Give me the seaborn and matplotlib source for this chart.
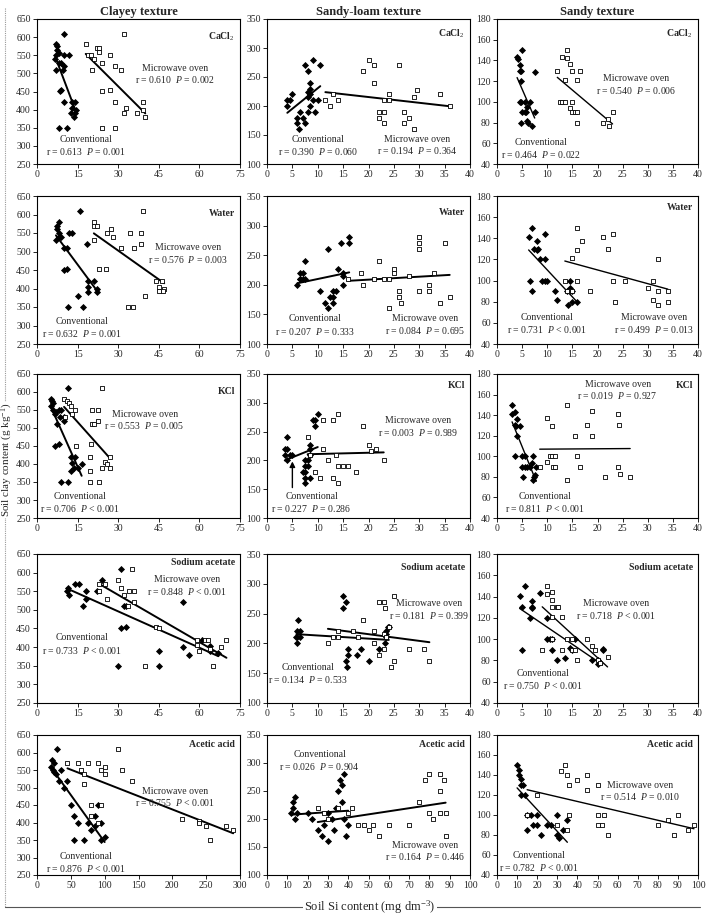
import numpy as np
import pandas as pd
import seaborn as sns
import matplotlib.pyplot as plt

# ---- data: (Si, clay) pairs ----
# row 1: CaCl2
cl_cacl2_conv = [(7, 580), (7.5, 575), (7.5, 565), (8, 555), (7, 550), (6.8, 540), (8, 530), (9, 530), (7, 510),
                 (9.5, 510), (10, 520), (10, 550), (9, 455), (8.5, 452), (10, 420), (12, 550), (13, 420), (13, 405),
                 (14, 420), (14, 390), (14.5, 400), (13.5, 380), (12.5, 390), (8, 350), (11, 350), (10, 610)]
cl_cacl2_mw = [(18, 580), (19, 550), (20, 550), (22, 570), (23, 570), (23, 560), (21, 540), (20.5, 510), (24, 530),
               (27, 550), (29, 520), (31, 510), (32, 610), (24, 452), (27, 455), (29, 422), (33, 405), (32, 392),
               (37, 392), (39, 422), (39, 400), (40, 380), (24, 350), (29, 350)]
sl_cacl2_conv = [(4, 210), (4.5, 210), (4, 200), (5, 220), (6.5, 190), (6, 180), (7, 180), (6, 170), (6.3, 160),
                 (7.5, 170), (8, 190), (7.5, 270), (8, 260), (8.5, 240), (9, 280), (8, 225), (8, 215), (8.5, 220),
                 (8.5, 200), (9, 210), (8.5, 230), (9.5, 190), (10, 210), (10.5, 270)]
sl_cacl2_mw = [(11.5, 210), (12.5, 200), (13, 220), (14, 210), (19, 260), (20, 280), (21, 270), (21, 240), (22, 190),
               (22, 180), (23, 190), (23, 170), (23, 210), (24, 210), (24, 220), (26, 270), (27, 190), (27, 170),
               (28, 180), (29, 215), (29.5, 228), (29, 160), (34, 220), (36, 200)]
sa_cacl2_conv = [(4, 143), (4.2, 141), (4.5, 136), (4.5, 130), (4.8, 130), (5, 150), (4.8, 120), (4.5, 100),
                 (4.8, 100), (5.5, 100), (5, 90), (5.5, 90), (6, 95), (4.8, 80), (6, 82), (6.2, 80), (7, 77),
                 (7.5, 90), (7.5, 129), (6.5, 100), (5.8, 90)]
sa_cacl2_mw = [(12, 130), (13, 143), (14, 150), (14, 142), (14.5, 137), (13.5, 121), (15, 130), (16, 121),
               (16.5, 130), (12.5, 100), (13, 100), (13.5, 100), (15, 100), (14.5, 94), (15, 90), (15.5, 90),
               (16, 90), (16, 80), (21, 80), (22, 83), (22.3, 77), (23, 90)]

# row 2: water
cl_water_conv = [(16, 610), (8, 580), (7.5, 570), (7.5, 560), (8, 550), (7, 530), (9, 540), (12, 550), (13, 550),
                 (10, 510), (11, 510), (10, 450), (11, 452), (18.5, 520), (19, 420), (19, 405), (19, 390), (21, 420),
                 (22, 390), (22, 400), (15, 380), (11.5, 350), (17, 350), (8, 540)]
cl_water_mw = [(21, 580), (21, 570), (22, 570), (21, 530), (26, 550), (27.5, 560), (28, 540), (31, 510), (23, 452),
               (25.5, 453), (34.5, 550), (36, 510), (38.5, 550), (38.5, 520), (39, 610), (44, 420), (45, 405),
               (45, 392), (47, 400), (46.5, 392), (46, 420), (40, 380), (33.5, 350), (35.5, 350)]
sl_water_conv = [(6, 200), (6.5, 210), (6.5, 220), (7, 220), (7, 210), (7.5, 210), (7.5, 240), (10.5, 190),
                 (11.5, 170), (12, 160), (12, 260), (12.5, 180), (13, 190), (13, 180), (13, 170), (13.5, 190),
                 (14, 227), (14.5, 270), (15, 200), (15, 215), (15, 220), (16.2, 280), (16.2, 270), (6.5, 210)]
sl_water_mw = [(16, 210), (18.5, 220), (19, 200), (21, 210), (22, 240), (23, 210), (24, 210), (24, 160), (25, 227),
               (25, 220), (26, 190), (26, 180), (26.5, 170), (28, 215), (30, 280), (30, 270), (30, 260), (30, 190),
               (32, 200), (32, 190), (33, 220), (34, 170), (35, 270), (36, 180)]
sa_water_conv = [(6.3, 141), (6.5, 100), (7, 150), (7.3, 130), (7, 90), (8, 137), (8, 129), (8.2, 130), (8.5, 120),
                 (9.5, 144), (9.5, 120), (9, 100), (9.5, 100), (10, 100), (11.5, 90), (12, 82), (14, 90), (14.5, 100),
                 (14.5, 93), (14.5, 90), (14.2, 77), (15, 80), (15, 90), (16, 80)]
sa_water_mw = [(13.5, 100), (14, 90), (15, 121), (15, 90), (16, 150), (16, 129), (16, 100), (17, 137), (18.5, 90),
               (21, 141), (22, 130), (23, 144), (23, 100), (23.5, 80), (25.5, 100), (30, 93), (31, 100), (31, 82),
               (32, 120), (32, 90), (32, 77), (34, 90), (34, 80)]

# row 3: KCl
cl_kcl_conv = [(5, 580), (5.5, 575), (6, 570), (5, 560), (6, 550), (6.5, 540), (7, 545), (8, 550), (9, 550),
               (7.5, 510), (8.5, 530), (10, 520), (10, 530), (11.5, 610), (6.5, 450), (8, 455), (12.5, 420),
               (13, 403), (14, 420), (12.5, 380), (13.5, 390), (15, 390), (16.5, 400), (9, 350), (11.5, 350)]
cl_kcl_mw = [(10, 580), (10.5, 530), (11, 575), (12, 570), (12.5, 560), (13, 540), (14, 550), (14.5, 450),
             (19.5, 420), (19.5, 380), (19.5, 350), (20.5, 550), (20.5, 510), (21, 510), (20, 455), (22.5, 550),
             (22.5, 520), (23, 350), (24, 610), (24, 390), (25, 405), (26, 400), (27, 420), (27, 390)]
sl_kcl_conv = [(3.5, 220), (4, 220), (3.5, 210), (4, 200), (4, 240), (4.5, 210), (5, 210), (7, 180), (7.5, 180),
               (7.5, 190), (8, 190), (7.5, 170), (8.5, 170), (7.5, 160), (8, 200), (8.5, 210), (8.5, 220),
               (8.5, 227), (9, 270), (9.5, 270), (9.5, 260), (10, 280), (7.5, 200)]
sl_kcl_mw = [(8, 240), (8.5, 210), (9.5, 180), (10.5, 170), (11, 270), (11, 220), (12, 200), (13, 270), (13, 170),
             (13.5, 210), (14, 280), (14, 190), (14, 160), (15, 190), (16, 190), (17.5, 180), (19, 260), (20, 227),
             (20.5, 217), (21.5, 220), (23, 200)]
sa_kcl_conv = [(3, 150), (3, 141), (3.5, 143), (3.5, 130), (3.8, 129), (4, 136), (4, 120), (4.5, 129), (3.5, 100),
               (5, 100), (5.5, 100), (5, 90), (5.2, 80), (6, 90), (6.5, 90), (7, 93), (7.2, 100), (7.3, 80),
               (7.2, 77), (7.5, 82), (7.8, 90), (5.5, 90)]
sa_kcl_mw = [(8.5, 90), (10, 137), (10, 94), (10.5, 100), (11, 129), (11, 100), (11.2, 90), (11.5, 100), (11.5, 90),
             (14, 150), (14, 77), (15.5, 120), (16, 100), (16.5, 90), (18, 130), (19, 144), (19, 120),
             (21.5, 80), (24, 141), (24, 90), (24.3, 130), (24.5, 83), (26.5, 80)]

# row 4: sodium acetate
cl_naoac_conv = [(11, 550), (11.5, 560), (12, 540), (14, 570), (15.5, 570), (17, 510), (18, 550), (18, 530),
                 (22, 550), (24, 580), (31, 610), (32, 510), (33, 510), (31, 450), (33, 455), (30, 350), (45, 390),
                 (45, 350), (54, 520), (54, 400), (56, 380), (61, 420), (64, 390), (64, 403), (67, 383)]
cl_naoac_mw = [(23, 570), (23, 550), (25, 570), (26, 530), (30, 580), (31, 560), (32, 540), (33.5, 510), (34, 550),
               (35, 610), (36, 550), (36, 520), (40, 350), (44, 455), (45, 450), (59, 420), (60, 390), (62, 420),
               (63, 420), (64, 395), (65, 350), (68, 400), (70, 420), (59, 405)]
sl_naoac_conv = [(6, 220), (6, 210), (6, 200), (6.2, 240), (6.5, 210), (6.5, 220), (5.8, 210), (15, 260),
                 (15, 280), (15.5, 270), (15.5, 170), (15.7, 160), (16, 190), (16, 180), (17.8, 180), (18.5, 190),
                 (20, 170), (22, 190), (23.3, 200), (23.5, 220), (23.5, 210), (23.5, 215), (23.8, 227), (24, 227)]
sl_naoac_mw = [(12, 200), (13, 210), (14, 220), (14, 210), (17, 220), (18, 210), (19, 240), (21, 220), (21, 200),
               (22, 270), (22, 180), (23, 270), (23, 190), (23.2, 260), (23, 215), (24.5, 160), (25, 170),
               (25, 280), (28, 190), (31, 190), (32, 170), (23.5, 210), (24, 228)]
sa_naoac_conv = [(4.5, 141), (5.5, 150), (5, 130), (5, 90), (7, 136), (7, 130), (7, 129), (6.5, 120), (8.5, 143),
                 (10, 120), (10, 100), (10.5, 100), (11, 100), (11, 90), (12, 80), (13.5, 82), (15.5, 100),
                 (14.5, 92), (15, 90), (19, 80), (20, 77), (20, 80), (21, 90), (21, 91)]
sa_naoac_mw = [(9, 90), (10, 150), (10, 142), (11, 144), (11, 137), (11, 130), (11, 121), (12, 130), (12.2, 130),
               (13, 121), (13, 90), (14, 100), (15, 100), (15, 90), (15.5, 90), (16, 80), (18, 100), (19, 94),
               (19.5, 90), (20, 80), (20.5, 78), (22, 83), (11, 100)]

# row 5: acetic acid
cl_acet_conv = [(22, 580), (25, 570), (20, 560), (23, 550), (25, 545), (28, 540), (30, 610), (35, 550), (32, 520),
                (40, 500), (50, 450), (55, 420), (45, 520), (60, 400), (75, 400), (80, 380), (85, 390), (90, 450),
                (95, 350), (100, 360), (85, 420), (70, 350), (95, 400), (55, 350)]
cl_acet_mw = [(45, 570), (60, 570), (65, 550), (70, 540), (70, 510), (75, 570), (90, 570), (95, 550), (100, 560),
              (100, 540), (120, 610), (125, 550), (140, 520), (80, 450), (95, 450), (80, 420), (90, 400),
              (215, 410), (240, 405), (250, 390), (255, 350), (280, 390), (290, 380), (240, 400)]
sl_acet_conv = [(12, 210), (13, 220), (14, 240), (15, 210), (14, 200), (13, 230), (20, 210), (22, 200), (25, 180),
                (27, 170), (28, 190), (30, 210), (30, 160), (32, 200), (33, 180), (34, 220), (35, 250), (36, 270),
                (37, 260), (38, 280), (37, 230), (38, 200), (40, 190), (39, 170)]
sl_acet_mw = [(25, 220), (28, 210), (30, 200), (35, 220), (40, 210), (42, 220), (45, 190), (48, 190), (50, 180),
              (52, 190), (55, 170), (60, 190), (78, 270), (80, 210), (80, 280), (82, 200), (85, 210), (85, 280),
              (87, 270), (88, 170), (75, 230), (70, 190), (85, 250), (88, 210)]
sa_acet_conv = [(10, 150), (11, 145), (11, 140), (12, 136), (12, 130), (13, 130), (12, 120), (14, 120), (15, 100),
                (17, 100), (18, 90), (20, 100), (22, 80), (25, 90), (27, 90), (30, 100), (30, 80), (31, 77),
                (33, 85), (35, 95), (15, 85), (20, 90)]
sa_acet_mw = [(15, 100), (20, 120), (30, 90), (32, 144), (34, 150), (35, 140), (36, 130), (36, 100), (40, 135),
              (45, 140), (45, 125), (50, 130), (50, 100), (50, 90), (52, 90), (53, 100), (55, 80), (80, 90),
              (85, 95), (88, 80), (90, 100), (95, 85), (98, 90), (35, 85)]

textures = ['Clayey texture', 'Sandy-loam texture', 'Sandy texture']
extractants = ['CaCl$_2$', 'Water', 'KCl', 'Sodium acetate', 'Acetic acid']

conv_stats = [['r = 0.613  $P$ = 0.001', 'r = 0.390  $P$ = 0.060', 'r = 0.464  $P$ = 0.022'],
              ['r = 0.632  $P$ = 0.001', 'r = 0.207  $P$ = 0.333', 'r = 0.731  $P$ < 0.001'],
              ['r = 0.706  $P$ < 0.001', 'r = 0.227  $P$ = 0.286', 'r = 0.811  $P$ < 0.001'],
              ['r = 0.733  $P$ < 0.001', 'r = 0.134  $P$ = 0.533', 'r = 0.750  $P$ < 0.001'],
              ['r = 0.876  $P$ < 0.001', 'r = 0.026  $P$ = 0.904', 'r = 0.782  $P$ < 0.001']]
mw_stats = [['r = 0.610  $P$ = 0.002', 'r = 0.194  $P$ = 0.364', 'r = 0.540  $P$ = 0.006'],
            ['r = 0.576  $P$ = 0.003', 'r = 0.084  $P$ = 0.695', 'r = 0.499  $P$ = 0.013'],
            ['r = 0.553  $P$ = 0.005', 'r = 0.003  $P$ = 0.989', 'r = 0.019  $P$ = 0.927'],
            ['r = 0.848  $P$ < 0.001', 'r = 0.181  $P$ = 0.399', 'r = 0.718  $P$ < 0.001'],
            ['r = 0.755  $P$ < 0.001', 'r = 0.164  $P$ = 0.446', 'r = 0.514  $P$ = 0.010']]

panels = [[(cl_cacl2_conv, cl_cacl2_mw), (sl_cacl2_conv, sl_cacl2_mw), (sa_cacl2_conv, sa_cacl2_mw)],
          [(cl_water_conv, cl_water_mw), (sl_water_conv, sl_water_mw), (sa_water_conv, sa_water_mw)],
          [(cl_kcl_conv, cl_kcl_mw), (sl_kcl_conv, sl_kcl_mw), (sa_kcl_conv, sa_kcl_mw)],
          [(cl_naoac_conv, cl_naoac_mw), (sl_naoac_conv, sl_naoac_mw), (sa_naoac_conv, sa_naoac_mw)],
          [(cl_acet_conv, cl_acet_mw), (sl_acet_conv, sl_acet_mw), (sa_acet_conv, sa_acet_mw)]]

# ---- layout (pixels) ----
W, H = 711, 919
col_px = [(37, 240), (267, 470), (497, 698)]
row_px = [(19, 164), (196, 344), (374, 518), (554, 703), (735, 875)]
ylims = [(250, 650, 50), (100, 350, 50), (40, 180, 20)]
xlims = [(0, 75, 15), (0, 40, 5), (0, 40, 5)]
xlims_last = [(0, 300, 50), (0, 100, 10), (0, 100, 10)]

# label positions in axes fraction: (name_y, conv (x, y), mw (x, y))
pos = [[(0.875, (0.24, 0.17), (0.68, 0.66)), (0.90, (0.25, 0.17), (0.74, 0.17)), (0.90, (0.22, 0.15), (0.69, 0.59))],
       [(0.885, (0.22, 0.155), (0.745, 0.65)), (0.89, (0.235, 0.17), (0.78, 0.17)), (0.92, (0.25, 0.18), (0.78, 0.18))],
       [(0.88, (0.21, 0.15), (0.53, 0.72)), (0.92, (0.22, 0.15), (0.745, 0.675)), (0.92, (0.24, 0.15), (0.60, 0.93))],
       [(0.945, (0.22, 0.44), (0.74, 0.83)), (0.91, (0.20, 0.24), (0.80, 0.67)), (0.91, (0.23, 0.20), (0.59, 0.67))],
       [(0.93, (0.24, 0.13), (0.68, 0.60)), (0.93, (0.26, 0.86), (0.78, 0.21)), (0.93, (0.21, 0.14), (0.71, 0.64))]]

sns.set_style('ticks')
plt.rcParams['font.family'] = ['Liberation Serif', 'DejaVu Serif']
plt.rcParams['mathtext.fontset'] = 'custom'
plt.rcParams['mathtext.rm'] = 'Liberation Serif'
plt.rcParams['mathtext.it'] = 'Liberation Serif:italic'
plt.rcParams['mathtext.bf'] = 'Liberation Serif:bold'

fig = plt.figure(figsize=(W / 100, H / 100), dpi=100)

for i, row in enumerate(panels):
    for j, (conv, mw) in enumerate(row):
        x0, x1 = col_px[j]
        y0, y1 = row_px[i]
        ax = fig.add_axes([x0 / W, 1 - y1 / H, (x1 - x0) / W, (y1 - y0) / H])
        dc = pd.DataFrame(conv, columns=['si', 'clay'])
        dm = pd.DataFrame(mw, columns=['si', 'clay'])
        sns.scatterplot(data=dc, x='si', y='clay', marker='D', color='black', s=13, linewidth=0, ax=ax, zorder=3)
        sns.scatterplot(data=dm, x='si', y='clay', marker='s', facecolor='white', edgecolor='black', s=9,
                        linewidth=0.6, ax=ax, zorder=3)
        lw = 1.0 if j == 2 else 1.4
        sns.regplot(data=dc, x='si', y='clay', scatter=False, ci=None, color='black', line_kws={'lw': lw}, ax=ax)
        sns.regplot(data=dm, x='si', y='clay', scatter=False, ci=None, color='black', line_kws={'lw': lw}, ax=ax)

        xl = xlims_last[j] if i == 4 else xlims[j]
        yl = ylims[j]
        ax.set_xlim(xl[0], xl[1])
        ax.set_ylim(yl[0], yl[1])
        ax.set_xticks(np.arange(xl[0], xl[1] + 0.1, xl[2]))
        ax.set_yticks(np.arange(yl[0], yl[1] + 0.1, yl[2]))
        ax.set_xlabel('')
        ax.set_ylabel('')
        ax.tick_params(labelsize=7, length=3, width=0.6, pad=1.5, color='black')
        for s in ax.spines.values():
            s.set_visible(True)
            s.set_linewidth(0.8)
            s.set_color('black')

        name_y, cp, mp = pos[i][j]
        ax.text(0.975, name_y, extractants[i], transform=ax.transAxes, ha='right', va='center',
                fontsize=7, fontweight='bold')
        ax.text(cp[0], cp[1], 'Conventional', transform=ax.transAxes, ha='center', va='center', fontsize=7)
        ax.text(cp[0], cp[1] - 0.085, conv_stats[i][j], transform=ax.transAxes, ha='center', va='center',
                fontsize=7)
        ax.text(mp[0], mp[1], 'Microwave oven', transform=ax.transAxes, ha='center', va='center', fontsize=7)
        ax.text(mp[0], mp[1] - 0.08, mw_stats[i][j], transform=ax.transAxes, ha='center', va='center',
                fontsize=7)

        if i == 0:
            ax.set_title(textures[j], fontsize=9, fontweight='bold', pad=3)
        if i == 2 and j == 1:
            ax.annotate('', xy=(5, 203), xytext=(5, 148),
                        arrowprops=dict(arrowstyle='-|>', color='black', lw=1.0, mutation_scale=8))

# outer frame lines and shared labels
fig.add_artist(plt.Line2D([5 / W, 5 / W], [1 - 8 / H, 1 - 907 / H], color='#999999', lw=0.8, ls=(0, (1, 1))))
fig.add_artist(plt.Line2D([5 / W, 700 / W], [1 - 907 / H, 1 - 907 / H], color='#555555', lw=0.8))
fig.text(7 / W, 1 - 460 / H, 'Soil clay content (g kg$^{-1}$)', rotation=90, ha='center', va='center',
         fontsize=8, bbox=dict(facecolor='white', edgecolor='none', pad=0.3))
fig.text(370 / W, 1 - 907 / H, 'Soil Si content (mg dm$^{-3}$)', ha='center', va='center', fontsize=9,
         bbox=dict(facecolor='white', edgecolor='none', pad=1))

fig.savefig('out.png', dpi=100)
